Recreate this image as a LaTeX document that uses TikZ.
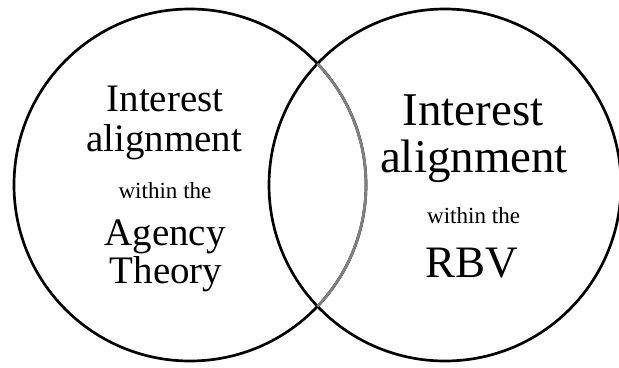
\documentclass[tikz,border=0pt]{standalone}
\usepackage{fontspec}
\setmainfont{Liberation Serif}

\tikzset{
    venn/.style = {draw, circle, line width=1.9pt, minimum size=8.8cm, inner sep=0pt},
    word/.style = {anchor=base, inner sep=0pt}
}
\newcommand{\bigword}{\fontsize{27.7}{30}\selectfont}
\newcommand{\hugeword}{\fontsize{33.4}{36}\selectfont}
\newcommand{\rbvword}{\fontsize{32}{35}\selectfont}
\newcommand{\smallword}{\fontsize{16.4}{18}\selectfont}

\begin{document}
\begin{tikzpicture}
    \useasboundingbox (0,0) rectangle (15.475,9.175);
    \node[venn] (agency) at (4.75,4.55) {};
    \node[venn] (rbv) at (11.125,4.55) {};
    \draw[color=black!50, line width=1.9pt]
    (agency.center) ++(-43.6:4.4) arc[start angle=-43.6, end angle=43.6, radius=4.4];

    % left circle
    \node[word] (aInterest) at (4.125,6.375) {\bigword Interest};
    \node[word] (aAlign) at (4.1,5.375) {\bigword alignment};
    \node[word] (aWithin) at (4.125,4.225) {\smallword within the};
    \node[word] (aAgency) at (4.125,3.05) {\bigword Agency};
    \node[word] (aTheory) at (4.15,2.1) {\bigword Theory};

    % right circle
    \node[word] (bInterest) at (11.825,6.025) {\hugeword Interest};
    \node[word] (bAlign) at (11.85,4.85) {\hugeword alignment};
    \node[word] (bWithin) at (11.84,3.6) {\smallword within the};
    \node[word] (bRBV) at (11.79,2.25) {\rbvword RBV};
\end{tikzpicture}
\end{document}
